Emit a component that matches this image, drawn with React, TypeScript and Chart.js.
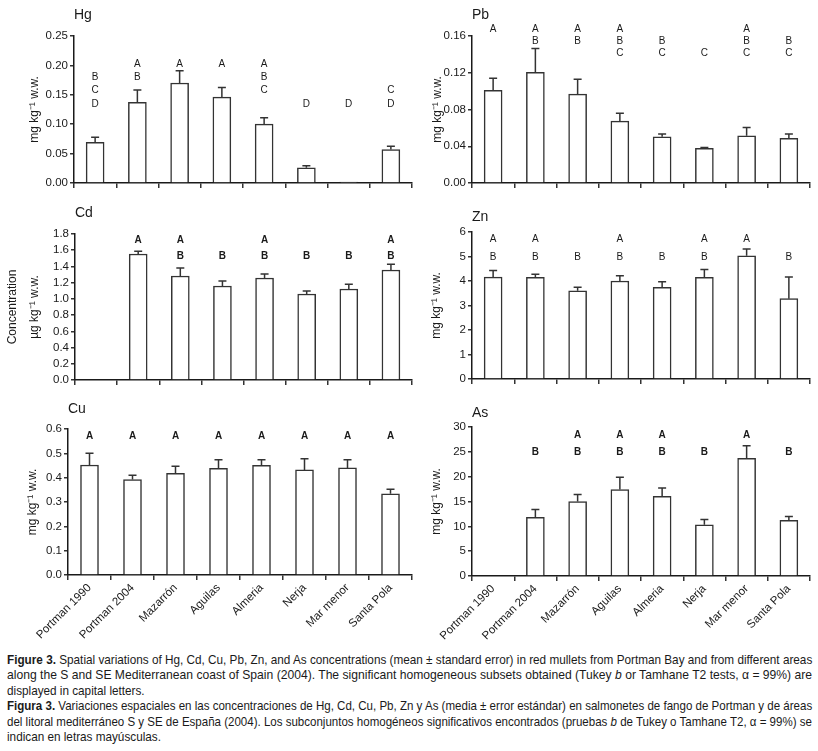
import React, { useEffect, useLayoutEffect, useRef } from 'react';
import { Chart, registerables } from 'chart.js';

Chart.register(...registerables);

// ---------- data ----------
const categories = ['Portman 1990', 'Portman 2004', 'Mazarrón', 'Aguilas', 'Almeria', 'Nerja', 'Mar menor', 'Santa Pola'];

const hgMean = [0.069, 0.137, 0.170, 0.146, 0.100, 0.026, 0.0015, 0.057];
const hgSE = [0.009, 0.021, 0.021, 0.0165, 0.011, 0.0035, 0, 0.0055];
const hgLetters = ['BCD', 'AB', 'A', 'A', 'ABC', 'D', 'D', 'CD'];

const pbMean = [0.101, 0.1205, 0.0967, 0.0673, 0.0503, 0.0377, 0.0514, 0.0485];
const pbSE = [0.013, 0.026, 0.0163, 0.0087, 0.003, 0.001, 0.009, 0.0047];
const pbLetters = ['A', 'AB', 'AB', 'ABC', 'BC', 'C', 'ABC', 'BC'];

const cdMean = [null, 1.553, 1.282, 1.159, 1.258, 1.060, 1.122, 1.356];
const cdSE = [null, 0.033, 0.099, 0.062, 0.049, 0.037, 0.058, 0.07];
const cdLetters = ['', 'A', 'AB', 'B', 'AB', 'B', 'B', 'AB'];

const znMean = [4.16, 4.15, 3.60, 4.00, 3.74, 4.15, 5.03, 3.28];
const znSE = [0.27, 0.13, 0.14, 0.21, 0.23, 0.32, 0.28, 0.88];
const znLetters = ['AB', 'AB', 'B', 'AB', 'B', 'AB', 'A', 'B'];

const cuMean = [0.452, 0.392, 0.418, 0.438, 0.451, 0.432, 0.440, 0.334];
const cuSE = [0.048, 0.018, 0.029, 0.036, 0.023, 0.046, 0.034, 0.018];
const cuLetters = ['A', 'A', 'A', 'A', 'A', 'A', 'A', 'A'];

const asMean = [null, 11.8, 15.0, 17.4, 16.05, 10.3, 23.7, 11.2];
const asSE = [null, 1.6, 1.4, 2.5, 1.65, 1.1, 2.5, 0.8];
const asLetters = ['', 'B', 'AB', 'AB', 'AB', 'B', 'A', 'B'];

// axis tick definitions: [max, step, decimals]
const hgTicks = [0.25, 0.05, 2];
const pbTicks = [0.16, 0.04, 2];
const cdTicks = [1.8, 0.2, 1];
const znTicks = [6, 1, 0];
const cuTicks = [0.6, 0.1, 1];
const asTicks = [30, 5, 0];

const unitMg = 'mg kg⁻¹ w.w.';
const unitCd = ['Concentration', 'µg kg⁻¹ w.w.'];

// ---------- styling ----------
const NARROW = '"Liberation Sans Narrow", "Arial Narrow", "Liberation Sans", Arial, sans-serif';
const PLAIN = '"Liberation Sans", Arial, sans-serif';
const INK = '#1a1a1a';
const LINE = '#333333';

type PanelCfg = {
  name: string;
  mean: (number | null)[];
  se: (number | null)[];
  letters: string[];
  ticks: number[];
  yTitle: string | string[];
  canvas: { left: number; top: number; width: number; height: number };
  area: { left: number; right: number; top: number; bottom: number };
  titleCenter: number;
  yTitleX: number;
  yTitleLH: number;
  letterTop: number;
  letterGap: number;
  letterBold: boolean;
  showLabels: boolean;
};

const panels: PanelCfg[] = [
  {
    name: 'Hg', mean: hgMean, se: hgSE, letters: hgLetters, ticks: hgTicks, yTitle: unitMg,
    canvas: { left: 0, top: 0, width: 416, height: 195 },
    area: { left: 74, right: 412, top: 36, bottom: 183 },
    titleCenter: 15, yTitleX: 34.5, yTitleLH: 1.2, letterTop: 28, letterGap: 13.3, letterBold: false, showLabels: false,
  },
  {
    name: 'Pb', mean: pbMean, se: pbSE, letters: pbLetters, ticks: pbTicks, yTitle: unitMg,
    canvas: { left: 410, top: 0, width: 408, height: 195 },
    area: { left: 472, right: 810, top: 36, bottom: 183 },
    titleCenter: 15, yTitleX: 438, yTitleLH: 1.2, letterTop: -7, letterGap: 12.2, letterBold: false, showLabels: false,
  },
  {
    name: 'Cd', mean: cdMean, se: cdSE, letters: cdLetters, ticks: cdTicks, yTitle: unitCd,
    canvas: { left: 0, top: 195, width: 416, height: 195 },
    area: { left: 75, right: 412, top: 234, bottom: 380 },
    titleCenter: 213, yTitleX: 12.5, yTitleLH: 1.85, letterTop: 6, letterGap: 16, letterBold: true, showLabels: false,
  },
  {
    name: 'Zn', mean: znMean, se: znSE, letters: znLetters, ticks: znTicks, yTitle: unitMg,
    canvas: { left: 410, top: 195, width: 408, height: 195 },
    area: { left: 472, right: 810, top: 232, bottom: 379 },
    titleCenter: 217, yTitleX: 437, yTitleLH: 1.2, letterTop: 7, letterGap: 18, letterBold: false, showLabels: false,
  },
  {
    name: 'Cu', mean: cuMean, se: cuSE, letters: cuLetters, ticks: cuTicks, yTitle: unitMg,
    canvas: { left: 0, top: 390, width: 416, height: 260 },
    area: { left: 68, right: 412, top: 429, bottom: 575 },
    titleCenter: 409, yTitleX: 33, yTitleLH: 1.2, letterTop: 7, letterGap: 17, letterBold: true, showLabels: true,
  },
  {
    name: 'As', mean: asMean, se: asSE, letters: asLetters, ticks: asTicks, yTitle: unitMg,
    canvas: { left: 410, top: 390, width: 408, height: 260 },
    area: { left: 472, right: 810, top: 427, bottom: 576 },
    titleCenter: 413, yTitleX: 437, yTitleLH: 1.2, letterTop: 8, letterGap: 17, letterBold: true, showLabels: true,
  },
];

function Panel({ cfg }: { cfg: PanelCfg }) {
  const ref = useRef<HTMLCanvasElement | null>(null);

  useEffect(() => {
    if (!ref.current) return;
    const c = cfg.canvas;
    const a = cfg.area;
    const [max, step, dec] = cfg.ticks;
    const yWidth = a.left - c.left;
    const padRight = c.left + c.width - a.right;
    const xHeight = c.top + c.height - a.bottom;
    const titleSize = 14;
    const titleHalf = (titleSize * 1.2) / 2;
    const yTitleSize = 12;
    const yTitleHalf = (yTitleSize * cfg.yTitleLH) / 2;

    const annot = {
      id: 'annot',
      afterDatasetsDraw(chart: any) {
        const { ctx, chartArea } = chart;
        const xs = chart.scales.x;
        const ys = chart.scales.y;
        ctx.save();
        ctx.strokeStyle = LINE;
        ctx.lineWidth = 1.5;
        cfg.mean.forEach((v, i) => {
          const e = cfg.se[i];
          if (v == null || e == null || e <= 0) return;
          const x = xs.getPixelForValue(i);
          const y0 = ys.getPixelForValue(v);
          const y1 = ys.getPixelForValue(v + e);
          ctx.beginPath();
          ctx.moveTo(x, y0);
          ctx.lineTo(x, y1);
          ctx.moveTo(x - 4, y1);
          ctx.lineTo(x + 4, y1);
          ctx.stroke();
        });
        ctx.fillStyle = INK;
        ctx.font = `${cfg.letterBold ? 'bold ' : ''}10px ${PLAIN}`;
        ctx.textAlign = 'center';
        ctx.textBaseline = 'middle';
        cfg.letters.forEach((s, i) => {
          const x = xs.getPixelForValue(i);
          for (const ch of s) {
            const r = ch.charCodeAt(0) - 65;
            ctx.fillText(ch, x, chartArea.top + cfg.letterTop + r * cfg.letterGap);
          }
        });
        ctx.restore();
      },
    };

    const chart = new Chart(ref.current, {
      type: 'bar',
      data: {
        labels: categories,
        datasets: [
          {
            data: cfg.mean as any,
            backgroundColor: '#ffffff',
            borderColor: LINE,
            borderWidth: 1.5,
            barThickness: 18,
          },
        ],
      },
      plugins: [annot],
      options: {
        responsive: false,
        animation: false,
        layout: { padding: { left: 0, right: padRight, top: 0, bottom: 0 } },
        plugins: {
          legend: { display: false },
          tooltip: { enabled: false },
          title: {
            display: true,
            text: cfg.name,
            align: 'start',
            fullSize: false,
            color: INK,
            font: { size: titleSize, family: NARROW, weight: 'normal' },
            padding: {
              top: cfg.titleCenter - c.top - titleHalf,
              bottom: a.top - cfg.titleCenter - titleHalf,
            },
          },
        },
        scales: {
          x: {
            type: 'category',
            offset: true,
            grid: { offset: true, drawOnChartArea: false, drawTicks: true, tickLength: 5, color: LINE, lineWidth: 1.5 },
            border: { display: true, color: INK, width: 1.5 },
            ticks: {
              display: cfg.showLabels,
              autoSkip: false,
              maxRotation: 45,
              minRotation: 45,
              padding: 1,
              color: INK,
              font: { size: 11.5, family: NARROW },
            },
            afterFit: (s: any) => {
              s.height = xHeight;
            },
          },
          y: {
            min: 0,
            max,
            ticks: {
              stepSize: step,
              autoSkip: false,
              padding: 2,
              color: INK,
              font: { size: 11.5, family: NARROW },
              callback: (v: any) => Number(v).toFixed(dec),
            },
            grid: { drawOnChartArea: false, drawTicks: true, tickLength: 4, color: LINE, lineWidth: 1.5 },
            border: { display: true, color: INK, width: 1.5 },
            title: {
              display: true,
              text: cfg.yTitle as any,
              color: INK,
              font: { size: yTitleSize, family: NARROW, lineHeight: cfg.yTitleLH },
              padding: { top: cfg.yTitleX - c.left - yTitleHalf, bottom: 0 },
            },
            afterFit: (s: any) => {
              s.width = yWidth;
            },
          },
        },
      } as any,
    });
    return () => chart.destroy();
  }, [cfg]);

  return (
    <div style={{ position: 'absolute', left: cfg.canvas.left, top: cfg.canvas.top, width: cfg.canvas.width, height: cfg.canvas.height }}>
      <canvas ref={ref} width={cfg.canvas.width} height={cfg.canvas.height} />
    </div>
  );
}

const CAPTION_WIDTH = 805;

function Caption() {
  const box = useRef<HTMLDivElement | null>(null);
  useLayoutEffect(() => {
    if (!box.current) return;
    const spans = Array.from(box.current.querySelectorAll('span[data-line]')) as HTMLSpanElement[];
    const scales: number[] = [];
    spans.forEach((s) => {
      if (s.dataset.line === 'full') {
        const k = CAPTION_WIDTH / s.offsetWidth;
        scales.push(k);
        s.style.transform = `scaleX(${k})`;
      }
    });
    const avg = scales.reduce((p, q) => p + q, 0) / Math.max(1, scales.length);
    spans.forEach((s) => {
      if (s.dataset.line === 'last') s.style.transform = `scaleX(${avg})`;
    });
  }, []);
  const sp: React.CSSProperties = { display: 'inline-block', whiteSpace: 'nowrap', transformOrigin: '0 0' };
  const row: React.CSSProperties = { height: 15.4, whiteSpace: 'nowrap' };
  return (
    <div
      ref={box}
      style={{
        position: 'absolute',
        left: 7,
        top: 652,
        width: CAPTION_WIDTH,
        fontFamily: NARROW,
        fontSize: 13,
        lineHeight: '15.4px',
        color: INK,
      }}
    >
      <div style={row}>
        <span data-line="full" style={sp}>
          <b>Figure 3.</b> Spatial variations of Hg, Cd, Cu, Pb, Zn, and As concentrations (mean ± standard error) in red mullets from Portman Bay and from different areas
        </span>
      </div>
      <div style={row}>
        <span data-line="full" style={sp}>
          along the S and SE Mediterranean coast of Spain (2004). The significant homogeneous subsets obtained (Tukey <i>b</i> or Tamhane T2 tests, α = 99%) are
        </span>
      </div>
      <div style={row}>
        <span data-line="last" style={sp}>displayed in capital letters.</span>
      </div>
      <div style={row}>
        <span data-line="full" style={sp}>
          <b>Figura 3.</b> Variaciones espaciales en las concentraciones de Hg, Cd, Cu, Pb, Zn y As (media ± error estándar) en salmonetes de fango de Portman y de áreas
        </span>
      </div>
      <div style={row}>
        <span data-line="full" style={sp}>
          del litoral mediterráneo S y SE de España (2004). Los subconjuntos homogéneos significativos encontrados (pruebas <i>b</i> de Tukey  o Tamhane T2, α = 99%) se
        </span>
      </div>
      <div style={row}>
        <span data-line="last" style={sp}>indican en letras mayúsculas.</span>
      </div>
    </div>
  );
}

export default function App() {
  return (
    <div style={{ position: 'absolute', left: 0, top: 0, width: 818, height: 751, background: '#fff', overflow: 'hidden' }}>
      {panels.map((p) => (
        <Panel key={p.name} cfg={p} />
      ))}
      <Caption />
    </div>
  );
}
